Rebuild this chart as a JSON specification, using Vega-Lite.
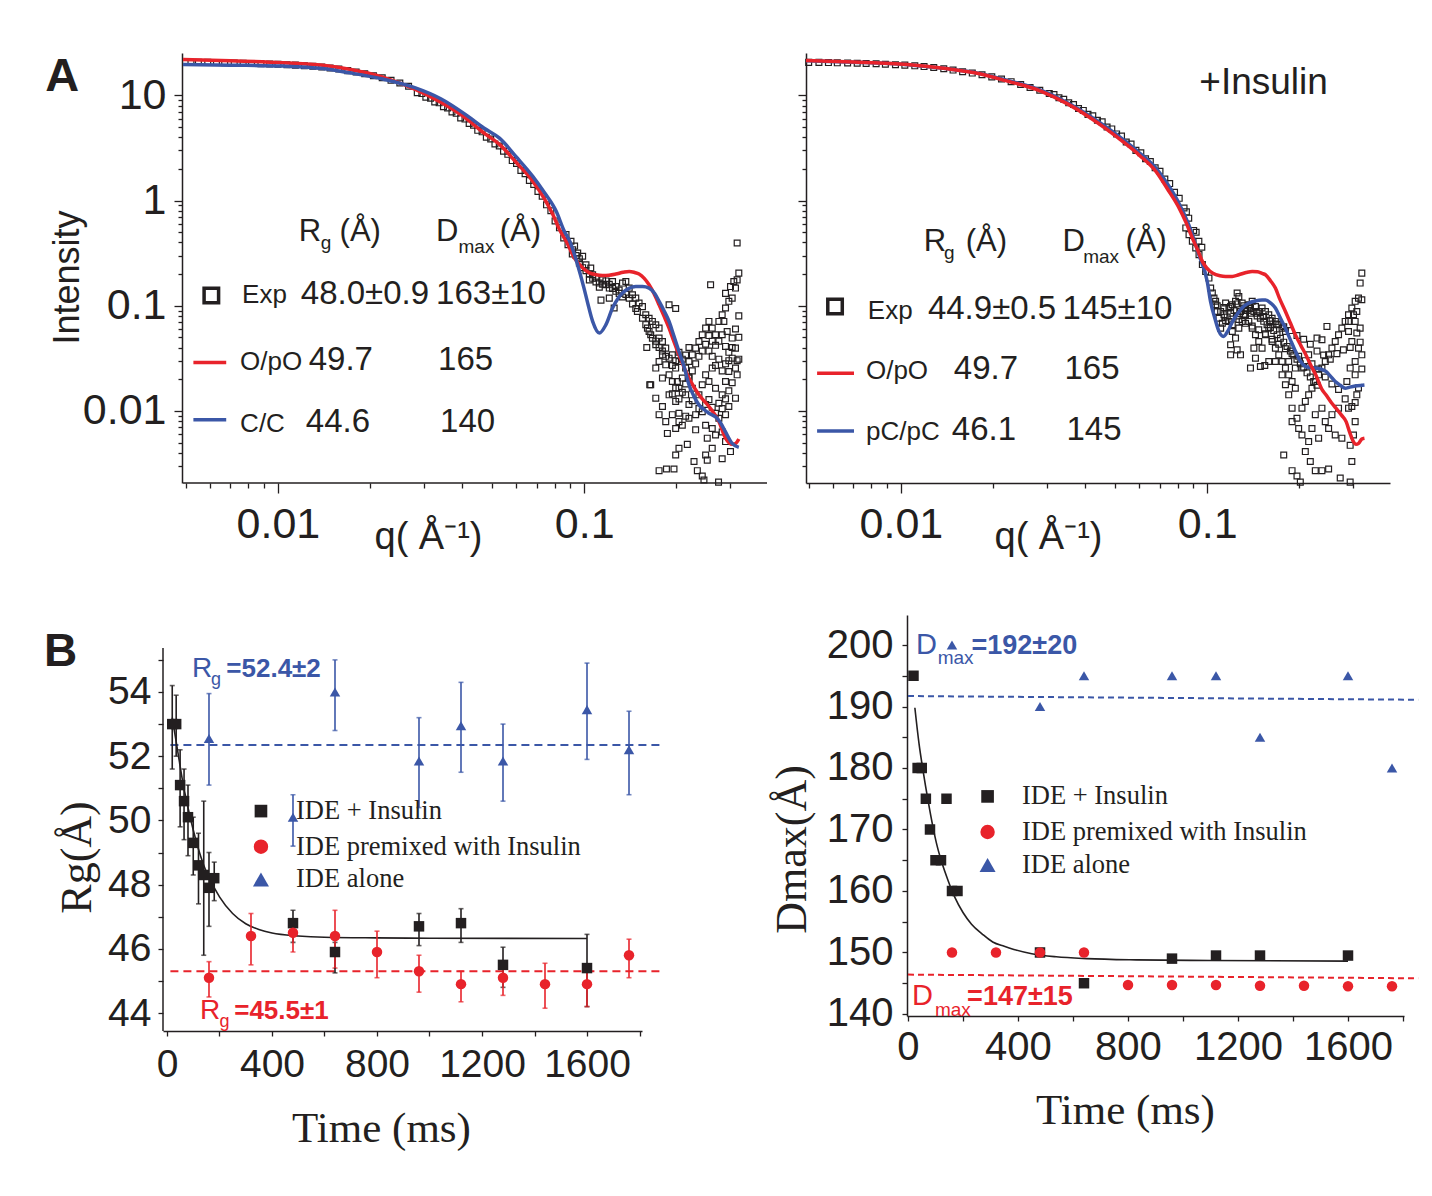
{
"$schema": "https://vega.github.io/schema/vega-lite/v6.json",
"background": "white",
"padding": {"left": 44, "top": 52, "right": 5, "bottom": 5},
"columns": 1,
"spacing": 59,
"config": {
  "view": {"stroke": null},
  "axis": {"grid": false, "domainColor": "#231f20", "tickColor": "#231f20", "labelColor": "#231f20", "titleColor": "#231f20", "domainWidth": 1.5, "tickWidth": 1.3, "labelFont": "Liberation Sans", "labelOverlap": false, "labelFlush": false, "labelBound": false, "titleFontWeight": "normal"}
},
"datasets": {
  "expL": [
    {"q":0.0052,"I":20.7},{"q":0.0055,"I":20.7},{"q":0.0059,"I":20.6},{"q":0.0063,"I":20.5},{"q":0.0067,"I":20.4},{"q":0.0072,"I":20.3},{"q":0.0077,"I":20.2},{"q":0.0082,"I":20.1},{"q":0.0088,"I":20.0},{"q":0.0094,"I":19.9},{"q":0.0100,"I":19.8},{"q":0.0107,"I":19.6},{"q":0.0114,"I":19.4},{"q":0.0122,"I":19.1},{"q":0.0130,"I":18.9},{"q":0.0139,"I":18.6},{"q":0.0148,"I":18.2},{"q":0.0158,"I":17.8},{"q":0.0169,"I":17.2},{"q":0.0180,"I":16.7},{"q":0.0192,"I":16.1},{"q":0.0205,"I":15.4},{"q":0.0219,"I":14.7},{"q":0.0234,"I":13.9},{"q":0.0250,"I":13.1},{"q":0.0267,"I":12.2},
    {"q":0.0285,"I":10.6},{"q":0.0304,"I":9.6},{"q":0.0325,"I":8.65},{"q":0.0347,"I":7.8},{"q":0.0370,"I":6.95},{"q":0.0395,"I":6.1},{"q":0.0421,"I":5.4},{"q":0.0449,"I":4.65},{"q":0.0479,"I":4.0},{"q":0.0511,"I":3.45},{"q":0.0545,"I":2.95},{"q":0.0582,"I":2.4},{"q":0.0621,"I":1.93},{"q":0.0662,"I":1.55},{"q":0.0706,"I":1.22},{"q":0.0753,"I":0.91},{"q":0.0803,"I":0.64},{"q":0.0857,"I":0.44},{"q":0.0914,"I":0.31},
    {"q":0.0295,"I":10.4},{"q":0.0315,"I":9.4},{"q":0.0336,"I":8.5},{"q":0.0358,"I":7.6},{"q":0.0382,"I":6.75},{"q":0.0408,"I":5.95},{"q":0.0435,"I":5.2},{"q":0.0464,"I":4.5},{"q":0.0495,"I":3.85},{"q":0.0528,"I":3.3},{"q":0.0563,"I":2.75},{"q":0.0601,"I":2.25},{"q":0.0641,"I":1.8},{"q":0.0684,"I":1.42},{"q":0.0729,"I":1.1},{"q":0.0778,"I":0.8},{"q":0.0830,"I":0.55},{"q":0.0885,"I":0.38},
    {"q":0.0872,"I":0.474},{"q":0.0905,"I":0.41},{"q":0.093,"I":0.369},{"q":0.0952,"I":0.317},{"q":0.0988,"I":0.295},{"q":0.0964,"I":0.255},{"q":0.1013,"I":0.245},{"q":0.105,"I":0.228},{"q":0.1065,"I":0.197},{"q":0.1092,"I":0.183},{"q":0.1039,"I":0.176},{"q":0.112,"I":0.164},{"q":0.1148,"I":0.176},{"q":0.1177,"I":0.158},{"q":0.1207,"I":0.147},{"q":0.1237,"I":0.170},{"q":0.1268,"I":0.152},{"q":0.130,"I":0.141},{"q":0.1333,"I":0.164},{"q":0.1367,"I":0.170},{"q":0.1134,"I":0.113},{"q":0.1207,"I":0.118},{"q":0.1252,"I":0.095},{"q":0.1402,"I":0.147},{"q":0.1437,"I":0.127},{"q":0.1473,"I":0.118},{"q":0.151,"I":0.106},{"q":0.1549,"I":0.098},{"q":0.1491,"I":0.088},{"q":0.1588,"I":0.082},{"q":0.1628,"I":0.076},{"q":0.1669,"I":0.0709},{"q":0.1712,"I":0.0659},{"q":0.1755,"I":0.0612},{"q":0.1608,"I":0.0612},{"q":0.1648,"I":0.0529},{"q":0.1755,"I":0.0492},{"q":0.18,"I":0.0457},{"q":0.1712,"I":0.0425},{"q":0.1892,"I":0.102},{"q":0.1988,"I":0.094},{"q":0.1845,"I":0.0395},{"q":0.18,"I":0.0341},{"q":0.1755,"I":0.0295},{"q":0.1845,"I":0.0274},{"q":0.1892,"I":0.0317},{"q":0.1939,"I":0.0341},{"q":0.1988,"I":0.0255},{"q":0.2038,"I":0.0295},{"q":0.1892,"I":0.022},{"q":0.1939,"I":0.019},{"q":0.1712,"I":0.0255},{"q":0.1648,"I":0.0177},{"q":0.18,"I":0.0205},{"q":0.2013,"I":0.019},{"q":0.209,"I":0.0205},{"q":0.2143,"I":0.0255},{"q":0.2197,"I":0.0295},{"q":0.2253,"I":0.0341},{"q":0.231,"I":0.0395},{"q":0.2368,"I":0.0457},{"q":0.2428,"I":0.0529},{"q":0.249,"I":0.0612},{"q":0.2553,"I":0.0709},{"q":0.2617,"I":0.0612},{"q":0.2683,"I":0.0529},{"q":0.2751,"I":0.0709},{"q":0.282,"I":0.082},{"q":0.2892,"I":0.095},{"q":0.2965,"I":0.110},{"q":0.304,"I":0.118},{"q":0.3117,"I":0.147},{"q":0.3156,"I":0.176},{"q":0.3196,"I":0.204},{"q":0.3078,"I":0.170},{"q":0.3002,"I":0.152},{"q":0.2892,"I":0.131},{"q":0.2856,"I":0.0709},{"q":0.2928,"I":0.0569},{"q":0.304,"I":0.0492},{"q":0.3117,"I":0.0395},{"q":0.304,"I":0.0317},{"q":0.2965,"I":0.0237},{"q":0.3156,"I":0.022},{"q":0.2892,"I":0.019},{"q":0.282,"I":0.0142},{"q":0.2683,"I":0.0164},{"q":0.2553,"I":0.019},{"q":0.2617,"I":0.0255},{"q":0.249,"I":0.022},{"q":0.2428,"I":0.0177},{"q":0.2368,"I":0.0142},{"q":0.2253,"I":0.0164},{"q":0.2143,"I":0.0142},{"q":0.2197,"I":0.0205},{"q":0.2038,"I":0.0164},{"q":0.1988,"I":0.0123},{"q":0.1892,"I":0.0142},{"q":0.18,"I":0.011},{"q":0.1845,"I":0.0079},{"q":0.1755,"I":0.0092},{"q":0.1939,"I":0.0092},{"q":0.2038,"I":0.0095},{"q":0.2143,"I":0.0089},{"q":0.2038,"I":0.0079},{"q":0.1988,"I":0.0068},{"q":0.209,"I":0.0073},{"q":0.2197,"I":0.0085},{"q":0.231,"I":0.0092},{"q":0.249,"I":0.0073},{"q":0.231,"I":0.0066},{"q":0.2521,"I":0.0055},{"q":0.2683,"I":0.0059},{"q":0.2617,"I":0.0068},{"q":0.2751,"I":0.0085},{"q":0.2892,"I":0.0092},{"q":0.3117,"I":0.0132},{"q":0.2965,"I":0.011},{"q":0.282,"I":0.0063},{"q":0.2892,"I":0.0051},{"q":0.3002,"I":0.0041},{"q":0.282,"I":0.0035},{"q":0.2617,"I":0.0044},{"q":0.249,"I":0.0038},{"q":0.2521,"I":0.0034},{"q":0.2282,"I":0.0033},{"q":0.217,"I":0.0048},{"q":0.2038,"I":0.0044},{"q":0.1988,"I":0.0038},{"q":0.1868,"I":0.0061},{"q":0.1963,"I":0.0028},{"q":0.1755,"I":0.0027},{"q":0.1855,"I":0.0028},{"q":0.234,"I":0.0027},{"q":0.2428,"I":0.0024},{"q":0.2459,"I":0.0022},{"q":0.2744,"I":0.0021},{"q":0.2585,"I":0.158},{"q":0.3156,"I":0.395},{"q":0.16,"I":0.040},{"q":0.1636,"I":0.0177},{"q":0.1712,"I":0.0132},
    {"q":0.1549,"I":0.076},{"q":0.1588,"I":0.066},{"q":0.1628,"I":0.057},{"q":0.1669,"I":0.049},{"q":0.1712,"I":0.046},{"q":0.1755,"I":0.040},{"q":0.18,"I":0.037},{"q":0.1845,"I":0.033},{"q":0.1939,"I":0.027},{"q":0.1988,"I":0.030},{"q":0.2038,"I":0.036},{"q":0.209,"I":0.031},{"q":0.2143,"I":0.034},{"q":0.2197,"I":0.040},{"q":0.1473,"I":0.094},{"q":0.1437,"I":0.104},{"q":0.1402,"I":0.118},{"q":0.1367,"I":0.128},{"q":0.1333,"I":0.121},{"q":0.13,"I":0.131},{"q":0.1268,"I":0.137},{"q":0.1237,"I":0.146},{"q":0.1207,"I":0.160},{"q":0.1177,"I":0.172},{"q":0.1148,"I":0.160},{"q":0.112,"I":0.150},{"q":0.1092,"I":0.168},{"q":0.1065,"I":0.182},{"q":0.1039,"I":0.200},{"q":0.1013,"I":0.215},{"q":0.0988,"I":0.230},{"q":0.0964,"I":0.280},{"q":0.094,"I":0.300},{"q":0.0917,"I":0.340},
    {"q":0.2553,"I":0.052},{"q":0.2617,"I":0.046},{"q":0.2683,"I":0.042},{"q":0.2751,"I":0.046},{"q":0.282,"I":0.053},{"q":0.2892,"I":0.041},{"q":0.2965,"I":0.036},{"q":0.304,"I":0.040},{"q":0.3117,"I":0.060},{"q":0.3196,"I":0.080},{"q":0.3196,"I":0.050},{"q":0.3156,"I":0.030},{"q":0.2965,"I":0.030},{"q":0.2892,"I":0.028},{"q":0.282,"I":0.024},{"q":0.2751,"I":0.031},{"q":0.2683,"I":0.027},{"q":0.2617,"I":0.033},{"q":0.2553,"I":0.037},{"q":0.249,"I":0.043},{"q":0.2428,"I":0.037},{"q":0.2368,"I":0.033},{"q":0.231,"I":0.028},{"q":0.2253,"I":0.024},{"q":0.2197,"I":0.021},{"q":0.2143,"I":0.018},{"q":0.209,"I":0.015},{"q":0.2038,"I":0.013},{"q":0.1988,"I":0.0165},{"q":0.1939,"I":0.0145},
    {"q":0.2197,"I":0.0115},{"q":0.2253,"I":0.0125},{"q":0.2368,"I":0.0105},{"q":0.2428,"I":0.0098},{"q":0.249,"I":0.0115},{"q":0.2553,"I":0.0128},{"q":0.2617,"I":0.0108},{"q":0.2683,"I":0.0095},{"q":0.2751,"I":0.0118},{"q":0.282,"I":0.0105},{"q":0.2892,"I":0.013},{"q":0.2965,"I":0.0155},{"q":0.304,"I":0.0185},{"q":0.3117,"I":0.0255},{"q":0.3196,"I":0.031}
  ],
  "expR": [
    {"q":0.0050,"I":20.6},{"q":0.0054,"I":20.6},{"q":0.0058,"I":20.5},{"q":0.0062,"I":20.4},{"q":0.0067,"I":20.3},{"q":0.0072,"I":20.2},{"q":0.0077,"I":20.1},{"q":0.0083,"I":20.0},{"q":0.0089,"I":19.8},{"q":0.0096,"I":19.6},{"q":0.0103,"I":19.4},{"q":0.0111,"I":19.1},{"q":0.0119,"I":18.8},{"q":0.0128,"I":18.4},{"q":0.0138,"I":17.9},{"q":0.0148,"I":17.4},{"q":0.0159,"I":16.8},{"q":0.0171,"I":16.3},{"q":0.0184,"I":15.7},{"q":0.0198,"I":15.0},{"q":0.0213,"I":14.3},{"q":0.0229,"I":13.5},{"q":0.0246,"I":12.7},{"q":0.0264,"I":11.9},{"q":0.0284,"I":11.2},{"q":0.0305,"I":10.4},{"q":0.0328,"I":9.5},{"q":0.0353,"I":8.5},{"q":0.0380,"I":7.5},{"q":0.0408,"I":6.6},{"q":0.0438,"I":5.8},{"q":0.0471,"I":5.0},{"q":0.0506,"I":4.3},{"q":0.0544,"I":3.6},{"q":0.0585,"I":3.0},{"q":0.0629,"I":2.5},{"q":0.0676,"I":2.05},{"q":0.0727,"I":1.6},{"q":0.0782,"I":1.2},{"q":0.0840,"I":0.85},{"q":0.0870,"I":0.68},{"q":0.0903,"I":0.52},{"q":0.0939,"I":0.41},
    {"q":0.0316,"I":10.2},{"q":0.0340,"I":9.2},{"q":0.0366,"I":8.2},{"q":0.0394,"I":7.2},{"q":0.0423,"I":6.4},{"q":0.0454,"I":5.6},{"q":0.0488,"I":4.8},{"q":0.0525,"I":4.1},{"q":0.0564,"I":3.45},{"q":0.0607,"I":2.85},{"q":0.0652,"I":2.35},{"q":0.0701,"I":1.9},{"q":0.0754,"I":1.45},{"q":0.0810,"I":1.05},{"q":0.0855,"I":0.78},{"q":0.0920,"I":0.50},{"q":0.0960,"I":0.36},
    {"q":0.0851,"I":0.549},{"q":0.0872,"I":0.474},{"q":0.0894,"I":0.410},{"q":0.0917,"I":0.354},{"q":0.094,"I":0.306},{"q":0.0964,"I":0.246},{"q":0.0988,"I":0.212},{"q":0.1013,"I":0.183},{"q":0.1026,"I":0.147},{"q":0.1039,"I":0.132},{"q":0.1052,"I":0.118},{"q":0.1065,"I":0.102},{"q":0.1078,"I":0.088},{"q":0.1092,"I":0.076},{"q":0.112,"I":0.068},{"q":0.1106,"I":0.0612},{"q":0.1065,"I":0.110},{"q":0.1148,"I":0.106},{"q":0.1177,"I":0.095},{"q":0.1207,"I":0.102},{"q":0.1237,"I":0.110},{"q":0.1268,"I":0.122},{"q":0.13,"I":0.106},{"q":0.1333,"I":0.095},{"q":0.1367,"I":0.102},{"q":0.1402,"I":0.110},{"q":0.1437,"I":0.098},{"q":0.1473,"I":0.088},{"q":0.151,"I":0.095},{"q":0.1549,"I":0.088},{"q":0.1588,"I":0.082},{"q":0.1628,"I":0.076},{"q":0.1669,"I":0.0709},{"q":0.1712,"I":0.0659},{"q":0.1755,"I":0.0612},{"q":0.18,"I":0.0569},{"q":0.1177,"I":0.0709},{"q":0.1207,"I":0.0569},{"q":0.1237,"I":0.0492},{"q":0.1268,"I":0.0612},{"q":0.13,"I":0.0709},{"q":0.1333,"I":0.082},{"q":0.1367,"I":0.0709},{"q":0.1402,"I":0.0612},{"q":0.1437,"I":0.0529},{"q":0.1473,"I":0.0457},{"q":0.151,"I":0.0395},{"q":0.1549,"I":0.0529},{"q":0.1588,"I":0.0612},{"q":0.1628,"I":0.0457},{"q":0.1669,"I":0.0395},{"q":0.1192,"I":0.0425},{"q":0.1192,"I":0.0341},{"q":0.1252,"I":0.038},{"q":0.1284,"I":0.0341},{"q":0.142,"I":0.0395},{"q":0.1437,"I":0.0317},{"q":0.1384,"I":0.0255},{"q":0.1491,"I":0.0264},{"q":0.1541,"I":0.027},{"q":0.1252,"I":0.132},{"q":0.1712,"I":0.0341},{"q":0.1755,"I":0.0295},{"q":0.18,"I":0.0255},{"q":0.1845,"I":0.022},{"q":0.1892,"I":0.019},{"q":0.1939,"I":0.0164},{"q":0.1755,"I":0.022},{"q":0.18,"I":0.0177},{"q":0.1845,"I":0.0142},{"q":0.1892,"I":0.0106},{"q":0.1963,"I":0.0085},{"q":0.1988,"I":0.0068},{"q":0.2038,"I":0.0059},{"q":0.1892,"I":0.0079},{"q":0.2038,"I":0.0106},{"q":0.209,"I":0.0123},{"q":0.2143,"I":0.0142},{"q":0.2197,"I":0.0164},{"q":0.2253,"I":0.019},{"q":0.231,"I":0.022},{"q":0.2368,"I":0.0255},{"q":0.2428,"I":0.0295},{"q":0.249,"I":0.0341},{"q":0.2553,"I":0.0395},{"q":0.2617,"I":0.0457},{"q":0.2683,"I":0.0529},{"q":0.2751,"I":0.0612},{"q":0.282,"I":0.0709},{"q":0.2892,"I":0.082},{"q":0.2965,"I":0.095},{"q":0.304,"I":0.110},{"q":0.3117,"I":0.118},{"q":0.3196,"I":0.114},{"q":0.3156,"I":0.164},{"q":0.3196,"I":0.204},{"q":0.3078,"I":0.088},{"q":0.3002,"I":0.082},{"q":0.2892,"I":0.0709},{"q":0.304,"I":0.0709},{"q":0.3156,"I":0.0612},{"q":0.2892,"I":0.0569},{"q":0.2965,"I":0.0457},{"q":0.3117,"I":0.0395},{"q":0.3196,"I":0.0341},{"q":0.304,"I":0.0295},{"q":0.2928,"I":0.0255},{"q":0.2856,"I":0.019},{"q":0.304,"I":0.022},{"q":0.3078,"I":0.0142},{"q":0.2892,"I":0.0106},{"q":0.304,"I":0.0079},{"q":0.3002,"I":0.0059},{"q":0.2928,"I":0.0047},{"q":0.2751,"I":0.0055},{"q":0.2617,"I":0.0059},{"q":0.249,"I":0.0068},{"q":0.2428,"I":0.0079},{"q":0.2553,"I":0.0092},{"q":0.2683,"I":0.0106},{"q":0.2368,"I":0.0106},{"q":0.2253,"I":0.0092},{"q":0.2197,"I":0.0068},{"q":0.231,"I":0.0055},{"q":0.2143,"I":0.0051},{"q":0.209,"I":0.0041},{"q":0.217,"I":0.0033},{"q":0.2253,"I":0.0027},{"q":0.2368,"I":0.0027},{"q":0.249,"I":0.0028},{"q":0.2717,"I":0.0023},{"q":0.2928,"I":0.0021},{"q":0.2965,"I":0.0033},{"q":0.1777,"I":0.0038},{"q":0.1892,"I":0.0027},{"q":0.1963,"I":0.0024},{"q":0.2013,"I":0.0021},{"q":0.2459,"I":0.0635},{"q":0.2282,"I":0.0492},{"q":0.2368,"I":0.0474},{"q":0.2143,"I":0.0341},{"q":0.2038,"I":0.0255},{"q":0.1939,"I":0.0255},{"q":0.1845,"I":0.0295},{"q":0.1669,"I":0.0295},{"q":0.1588,"I":0.0295},
    {"q":0.1106,"I":0.088},{"q":0.1134,"I":0.082},{"q":0.1162,"I":0.078},{"q":0.1192,"I":0.085},{"q":0.1222,"I":0.090},{"q":0.1252,"I":0.080},{"q":0.1284,"I":0.088},{"q":0.1317,"I":0.083},{"q":0.135,"I":0.090},{"q":0.1384,"I":0.085},{"q":0.142,"I":0.088},{"q":0.1455,"I":0.080},{"q":0.1491,"I":0.076},{"q":0.1529,"I":0.071},{"q":0.1568,"I":0.066},{"q":0.1608,"I":0.062},{"q":0.1648,"I":0.058},{"q":0.169,"I":0.053},{"q":0.1733,"I":0.049},{"q":0.1777,"I":0.045},{"q":0.1822,"I":0.041},{"q":0.1868,"I":0.037},{"q":0.1916,"I":0.034},{"q":0.1963,"I":0.031},{"q":0.2013,"I":0.028},{"q":0.2064,"I":0.026},{"q":0.2117,"I":0.023},{"q":0.217,"I":0.021},{"q":0.2225,"I":0.019},{"q":0.2282,"I":0.0175},{"q":0.1148,"I":0.072},{"q":0.1207,"I":0.066},{"q":0.1268,"I":0.074},{"q":0.1333,"I":0.068},{"q":0.1402,"I":0.064},{"q":0.1473,"I":0.059},{"q":0.1549,"I":0.054},{"q":0.1628,"I":0.048},{"q":0.1712,"I":0.043},{"q":0.18,"I":0.039},{"q":0.1892,"I":0.035},{"q":0.1988,"I":0.033},{"q":0.209,"I":0.030},{"q":0.2197,"I":0.028},{"q":0.231,"I":0.025},{"q":0.2428,"I":0.021},{"q":0.2553,"I":0.018},{"q":0.2683,"I":0.016},{"q":0.282,"I":0.013},{"q":0.2965,"I":0.011},{"q":0.304,"I":0.012},{"q":0.3117,"I":0.0165},{"q":0.3196,"I":0.025},{"q":0.3156,"I":0.045},{"q":0.3078,"I":0.055},{"q":0.2928,"I":0.040},{"q":0.2783,"I":0.038},{"q":0.265,"I":0.035},{"q":0.2521,"I":0.031},{"q":0.2398,"I":0.034},{"q":0.2282,"I":0.037},{"q":0.217,"I":0.043},{"q":0.2064,"I":0.048},{"q":0.1963,"I":0.052},{"q":0.1868,"I":0.058},{"q":0.1777,"I":0.063},{"q":0.169,"I":0.067},{"q":0.1608,"I":0.072},{"q":0.1529,"I":0.079},{"q":0.1455,"I":0.085},{"q":0.1384,"I":0.094},{"q":0.1317,"I":0.100},{"q":0.1252,"I":0.104},{"q":0.1192,"I":0.098},{"q":0.1134,"I":0.096},{"q":0.1078,"I":0.100}
  ],
  "redL": [
    {"q":0.0049,"I":22.0},{"q":0.0070,"I":21.4},{"q":0.0104,"I":20.4},{"q":0.0140,"I":19.3},{"q":0.0171,"I":17.7},{"q":0.0220,"I":14.9},{"q":0.0281,"I":11.4},{"q":0.0340,"I":8.6},{"q":0.0409,"I":6.12},{"q":0.0470,"I":4.4},{"q":0.0530,"I":3.4},{"q":0.0600,"I":2.3},{"q":0.0679,"I":1.53},{"q":0.0740,"I":1.05},{"q":0.0789,"I":0.74},{"q":0.0830,"I":0.53},{"q":0.0873,"I":0.41},{"q":0.0929,"I":0.284},{"q":0.0989,"I":0.228},{"q":0.1040,"I":0.205},{"q":0.1092,"I":0.197},{"q":0.1148,"I":0.194},{"q":0.1205,"I":0.195},{"q":0.1268,"I":0.200},{"q":0.1340,"I":0.208},{"q":0.1402,"I":0.212},{"q":0.1460,"I":0.207},{"q":0.1510,"I":0.200},{"q":0.1570,"I":0.182},{"q":0.1628,"I":0.158},{"q":0.1690,"I":0.130},{"q":0.1755,"I":0.102},{"q":0.1820,"I":0.080},{"q":0.1892,"I":0.0612},{"q":0.1960,"I":0.046},{"q":0.2038,"I":0.0341},{"q":0.2197,"I":0.0205},{"q":0.2368,"I":0.0142},{"q":0.2553,"I":0.0110},{"q":0.2751,"I":0.0079},{"q":0.2892,"I":0.0055},{"q":0.3040,"I":0.0048},{"q":0.3120,"I":0.0049},{"q":0.3196,"I":0.0054}
  ],
  "blueL": [
    {"q":0.0049,"I":19.7},{"q":0.0070,"I":19.4},{"q":0.0104,"I":19.0},{"q":0.0140,"I":18.0},{"q":0.0171,"I":16.4},{"q":0.0220,"I":14.3},{"q":0.0281,"I":11.8},{"q":0.0340,"I":9.3},{"q":0.0409,"I":6.6},{"q":0.0470,"I":4.9},{"q":0.0530,"I":3.9},{"q":0.0600,"I":2.6},{"q":0.0679,"I":1.70},{"q":0.0740,"I":1.20},{"q":0.0810,"I":0.79},{"q":0.0861,"I":0.51},{"q":0.0897,"I":0.409},{"q":0.0951,"I":0.245},{"q":0.0998,"I":0.147},{"q":0.1023,"I":0.110},{"q":0.1065,"I":0.071},{"q":0.1120,"I":0.055},{"q":0.1177,"I":0.066},{"q":0.1237,"I":0.095},{"q":0.1290,"I":0.118},{"q":0.1333,"I":0.132},{"q":0.1400,"I":0.146},{"q":0.1473,"I":0.152},{"q":0.1550,"I":0.152},{"q":0.1628,"I":0.147},{"q":0.1700,"I":0.130},{"q":0.1755,"I":0.110},{"q":0.1820,"I":0.090},{"q":0.1892,"I":0.0709},{"q":0.1960,"I":0.052},{"q":0.2038,"I":0.0367},{"q":0.2120,"I":0.026},{"q":0.2197,"I":0.0177},{"q":0.2280,"I":0.0138},{"q":0.2368,"I":0.0114},{"q":0.2460,"I":0.0103},{"q":0.2553,"I":0.0095},{"q":0.2717,"I":0.0085},{"q":0.2800,"I":0.0075},{"q":0.2892,"I":0.0063},{"q":0.3040,"I":0.0049},{"q":0.3196,"I":0.0045}
  ],
  "redR": [
    {"q":0.0049,"I":21.5},{"q":0.0070,"I":20.8},{"q":0.0105,"I":19.7},{"q":0.0140,"I":18.0},{"q":0.0174,"I":16.4},{"q":0.0220,"I":13.8},{"q":0.0286,"I":11.0},{"q":0.0350,"I":8.3},{"q":0.0416,"I":6.1},{"q":0.0470,"I":4.75},{"q":0.0528,"I":3.67},{"q":0.0600,"I":2.7},{"q":0.0679,"I":1.90},{"q":0.0740,"I":1.30},{"q":0.0809,"I":0.851},{"q":0.0850,"I":0.63},{"q":0.0894,"I":0.44},{"q":0.0930,"I":0.34},{"q":0.0964,"I":0.264},{"q":0.1000,"I":0.225},{"q":0.1043,"I":0.204},{"q":0.1100,"I":0.193},{"q":0.1148,"I":0.19},{"q":0.1207,"I":0.19},{"q":0.1268,"I":0.197},{"q":0.1340,"I":0.207},{"q":0.1402,"I":0.212},{"q":0.1460,"I":0.210},{"q":0.1510,"I":0.203},{"q":0.1549,"I":0.197},{"q":0.1610,"I":0.172},{"q":0.1669,"I":0.147},{"q":0.1720,"I":0.118},{"q":0.1800,"I":0.088},{"q":0.1870,"I":0.068},{"q":0.1939,"I":0.053},{"q":0.2020,"I":0.042},{"q":0.2100,"I":0.034},{"q":0.2180,"I":0.027},{"q":0.2260,"I":0.022},{"q":0.2368,"I":0.0160},{"q":0.2440,"I":0.0142},{"q":0.2540,"I":0.012},{"q":0.2630,"I":0.0106},{"q":0.2751,"I":0.0090},{"q":0.2840,"I":0.0079},{"q":0.2920,"I":0.0062},{"q":0.2990,"I":0.0052},{"q":0.3060,"I":0.0048},{"q":0.3120,"I":0.0049},{"q":0.3196,"I":0.0054},{"q":0.3260,"I":0.0055}
  ],
  "blueR": [
    {"q":0.0049,"I":21.3},{"q":0.0070,"I":20.7},{"q":0.0105,"I":19.6},{"q":0.0140,"I":18.0},{"q":0.0174,"I":16.5},{"q":0.0220,"I":14.0},{"q":0.0286,"I":11.2},{"q":0.0350,"I":8.5},{"q":0.0416,"I":6.3},{"q":0.0470,"I":4.95},{"q":0.0528,"I":3.85},{"q":0.0600,"I":2.85},{"q":0.0679,"I":2.04},{"q":0.0740,"I":1.45},{"q":0.0800,"I":1.0},{"q":0.0870,"I":0.59},{"q":0.0939,"I":0.306},{"q":0.1000,"I":0.170},{"q":0.1025,"I":0.110},{"q":0.1060,"I":0.075},{"q":0.1092,"I":0.057},{"q":0.1130,"I":0.051},{"q":0.1170,"I":0.058},{"q":0.1210,"I":0.071},{"q":0.1260,"I":0.085},{"q":0.1300,"I":0.095},{"q":0.1367,"I":0.106},{"q":0.1437,"I":0.111},{"q":0.1510,"I":0.113},{"q":0.1550,"I":0.113},{"q":0.1610,"I":0.106},{"q":0.1669,"I":0.095},{"q":0.1730,"I":0.077},{"q":0.1800,"I":0.061},{"q":0.1870,"I":0.047},{"q":0.1939,"I":0.037},{"q":0.2010,"I":0.030},{"q":0.2090,"I":0.0265},{"q":0.2170,"I":0.0258},{"q":0.2253,"I":0.0256},{"q":0.2340,"I":0.0250},{"q":0.2440,"I":0.0237},{"q":0.2520,"I":0.0215},{"q":0.2617,"I":0.019},{"q":0.2720,"I":0.0175},{"q":0.2820,"I":0.0164},{"q":0.2920,"I":0.0168},{"q":0.3040,"I":0.0172},{"q":0.3196,"I":0.0175},{"q":0.3260,"I":0.0176}
  ],
  "axisL": [{"q":0.0049,"q2":0.395,"I":0.00206}],
  "tabL": [
    {"text":"A","part":"panel","q":0.00174,"I":11.01},
    {"text":"R","part":"head","q":0.0117,"I":0.41},
    {"text":"g","part":"sub","q":0.0138,"I":0.347},
    {"text":"(Å)","part":"head","q":0.0159,"I":0.41},
    {"text":"D","part":"head","q":0.03283,"I":0.41},
    {"text":"max","part":"sub","q":0.03886,"I":0.317},
    {"text":"(Å)","part":"head","q":0.05297,"I":0.41},
    {"text":"","part":"marker","q":0.006062,"I":0.1253},
    {"text":"Exp","part":"name","q":0.007639,"I":0.1052},
    {"text":"48.0±0.9","part":"value","q":0.01188,"I":0.1029},
    {"text":"163±10","part":"value","q":0.03283,"I":0.1029},
    {"text":"O/pO","part":"name","q":0.007526,"I":0.02473},
    {"text":"49.7","part":"value","q":0.0126,"I":0.02473},
    {"text":"165","part":"value","q":0.03332,"I":0.02473},
    {"text":"C/C","part":"name","q":0.007526,"I":0.006353},
    {"text":"44.6","part":"value","q":0.01233,"I":0.006353},
    {"text":"140","part":"value","q":0.03382,"I":0.006353}
  ],
  "keyL": [
    {"model":"O/pO","q":0.005297,"q2":0.006779,"I":0.02884},
    {"model":"C/C","q":0.005297,"q2":0.006779,"I":0.008208}
  ],
  "tabR": [
    {"text":"R","part":"head","q":0.01188,"I":0.3291},
    {"text":"g","part":"sub","q":0.01383,"I":0.2786},
    {"text":"(Å)","part":"head","q":0.01628,"I":0.3291},
    {"text":"D","part":"head","q":0.0337,"I":0.3291},
    {"text":"max","part":"sub","q":0.03935,"I":0.2547},
    {"text":"(Å)","part":"head","q":0.05406,"I":0.3291},
    {"text":"","part":"marker","q":0.006095,"I":0.09847},
    {"text":"Exp","part":"name","q":0.0078,"I":0.07536},
    {"text":"44.9±0.5","part":"value","q":0.01225,"I":0.07536},
    {"text":"145±10","part":"value","q":0.0337,"I":0.07536},
    {"text":"O/pO","part":"name","q":0.00769,"I":0.01987},
    {"text":"49.7","part":"value","q":0.01488,"I":0.01987},
    {"text":"165","part":"value","q":0.0342,"I":0.01987},
    {"text":"pC/pC","part":"name","q":0.00769,"I":0.005333},
    {"text":"46.1","part":"value","q":0.01466,"I":0.005333},
    {"text":"145","part":"value","q":0.03472,"I":0.005333},
    {"text":"+Insulin","part":"label","q":0.09419,"I":10.29}
  ],
  "keyR": [
    {"model":"O/pO","q":0.005326,"q2":0.007029,"I":0.0228},
    {"model":"pC/pC","q":0.005326,"q2":0.007029,"I":0.006422}
  ],
  "rg": [
    {"series":"IDE + Insulin","t":20,"v":53.0,"lo":51.6,"hi":54.2},
    {"series":"IDE + Insulin","t":35,"v":53.0,"lo":52.0,"hi":53.9},
    {"series":"IDE + Insulin","t":50,"v":51.1,"lo":49.8,"hi":52.2},
    {"series":"IDE + Insulin","t":65,"v":50.6,"lo":49.4,"hi":51.6},
    {"series":"IDE + Insulin","t":80,"v":50.1,"lo":48.9,"hi":51.1},
    {"series":"IDE + Insulin","t":100,"v":49.3,"lo":48.3,"hi":50.1},
    {"series":"IDE + Insulin","t":120,"v":48.6,"lo":47.4,"hi":49.6},
    {"series":"IDE + Insulin","t":140,"v":48.3,"lo":45.8,"hi":50.6},
    {"series":"IDE + Insulin","t":160,"v":47.9,"lo":46.7,"hi":49.0},
    {"series":"IDE + Insulin","t":180,"v":48.2,"lo":47.5,"hi":48.7},
    {"series":"IDE + Insulin","t":480,"v":46.8,"lo":46.2,"hi":47.2},
    {"series":"IDE + Insulin","t":640,"v":45.9,"lo":45.25,"hi":46.2},
    {"series":"IDE + Insulin","t":960,"v":46.7,"lo":46.1,"hi":47.1},
    {"series":"IDE + Insulin","t":1120,"v":46.8,"lo":46.2,"hi":47.25},
    {"series":"IDE + Insulin","t":1280,"v":45.5,"lo":44.8,"hi":46.05},
    {"series":"IDE + Insulin","t":1600,"v":45.4,"lo":44.2,"hi":46.45},
    {"series":"IDE premixed with Insulin","t":160,"v":45.1,"lo":44.5,"hi":45.6},
    {"series":"IDE premixed with Insulin","t":320,"v":46.4,"lo":45.5,"hi":47.1},
    {"series":"IDE premixed with Insulin","t":480,"v":46.5,"lo":45.9,"hi":46.9},
    {"series":"IDE premixed with Insulin","t":640,"v":46.4,"lo":45.4,"hi":47.2},
    {"series":"IDE premixed with Insulin","t":800,"v":45.9,"lo":45.1,"hi":46.55},
    {"series":"IDE premixed with Insulin","t":960,"v":45.3,"lo":44.65,"hi":45.8},
    {"series":"IDE premixed with Insulin","t":1120,"v":44.9,"lo":44.35,"hi":45.3},
    {"series":"IDE premixed with Insulin","t":1280,"v":45.1,"lo":44.55,"hi":45.6},
    {"series":"IDE premixed with Insulin","t":1440,"v":44.9,"lo":44.15,"hi":45.55},
    {"series":"IDE premixed with Insulin","t":1600,"v":44.9,"lo":44.2,"hi":45.4},
    {"series":"IDE premixed with Insulin","t":1760,"v":45.8,"lo":45.1,"hi":46.3},
    {"series":"IDE alone","t":160,"v":52.55,"lo":51.1,"hi":53.95},
    {"series":"IDE alone","t":480,"v":50.1,"lo":49.2,"hi":50.8},
    {"series":"IDE alone","t":640,"v":54.0,"lo":52.8,"hi":55.0},
    {"series":"IDE alone","t":960,"v":51.85,"lo":50.4,"hi":53.2},
    {"series":"IDE alone","t":1120,"v":52.95,"lo":51.5,"hi":54.3},
    {"series":"IDE alone","t":1280,"v":51.85,"lo":50.6,"hi":53.0},
    {"series":"IDE alone","t":1600,"v":53.45,"lo":51.9,"hi":54.9},
    {"series":"IDE alone","t":1760,"v":52.2,"lo":50.8,"hi":53.4}
  ],
  "axisRg": [{"t":-15.2,"v":43.44,"v2":55.37}],
  "legRg": [
    {"series":"IDE + Insulin","t":358,"tl":491.5,"v":50.29},
    {"series":"IDE premixed with Insulin","t":358,"tl":491.5,"v":49.18},
    {"series":"IDE alone","t":358,"tl":491.5,"v":48.16}
  ],
  "rgDash": [
    {"series":"IDE alone","t":13,"v":52.35},{"series":"IDE alone","t":1890,"v":52.35},
    {"series":"IDE premixed with Insulin","t":13,"v":45.3},{"series":"IDE premixed with Insulin","t":1890,"v":45.3}
  ],
  "rgFit": [
    {"t":20,"v":53.2},{"t":40,"v":52.2},{"t":60,"v":51.2},{"t":80,"v":50.4},{"t":100,"v":49.7},{"t":120,"v":49.1},{"t":140,"v":48.6},{"t":160,"v":48.2},{"t":180,"v":47.9},{"t":200,"v":47.62},{"t":250,"v":47.1},{"t":300,"v":46.78},{"t":350,"v":46.6},{"t":400,"v":46.49},{"t":500,"v":46.4},{"t":600,"v":46.36},{"t":800,"v":46.34},{"t":1000,"v":46.33},{"t":1600,"v":46.32}
  ],
  "rgNote": [
    {"text":"B","part":"panel","series":"panel","t":-468.5,"v":54.81},
    {"text":"R","part":"sym","series":"IDE alone","t":95,"v":54.47},
    {"text":"g","part":"sub","series":"IDE alone","t":168,"v":54.23},
    {"text":"=52.4±2","part":"val","series":"IDE alone","t":226,"v":54.47},
    {"text":"R","part":"sym","series":"IDE premixed with Insulin","t":126,"v":43.81},
    {"text":"g","part":"sub","series":"IDE premixed with Insulin","t":200,"v":43.56},
    {"text":"=45.5±1","part":"val","series":"IDE premixed with Insulin","t":256,"v":43.81}
  ],
  "dm": [
    {"series":"IDE + Insulin","t":20,"v":195},{"series":"IDE + Insulin","t":35,"v":180},{"series":"IDE + Insulin","t":50,"v":180},{"series":"IDE + Insulin","t":65,"v":175},{"series":"IDE + Insulin","t":80,"v":170},{"series":"IDE + Insulin","t":100,"v":165},{"series":"IDE + Insulin","t":120,"v":165},{"series":"IDE + Insulin","t":140,"v":175},{"series":"IDE + Insulin","t":160,"v":160},{"series":"IDE + Insulin","t":180,"v":160},{"series":"IDE + Insulin","t":480,"v":150},{"series":"IDE + Insulin","t":640,"v":145},{"series":"IDE + Insulin","t":960,"v":149},{"series":"IDE + Insulin","t":1120,"v":149.5},{"series":"IDE + Insulin","t":1280,"v":149.5},{"series":"IDE + Insulin","t":1600,"v":149.5},
    {"series":"IDE premixed with Insulin","t":160,"v":150},{"series":"IDE premixed with Insulin","t":320,"v":150},{"series":"IDE premixed with Insulin","t":480,"v":150},{"series":"IDE premixed with Insulin","t":640,"v":150},{"series":"IDE premixed with Insulin","t":800,"v":144.7},{"series":"IDE premixed with Insulin","t":960,"v":144.7},{"series":"IDE premixed with Insulin","t":1120,"v":144.7},{"series":"IDE premixed with Insulin","t":1280,"v":144.6},{"series":"IDE premixed with Insulin","t":1440,"v":144.6},{"series":"IDE premixed with Insulin","t":1600,"v":144.5},{"series":"IDE premixed with Insulin","t":1760,"v":144.5},
    {"series":"IDE alone","t":160,"v":200},{"series":"IDE alone","t":480,"v":190},{"series":"IDE alone","t":640,"v":195},{"series":"IDE alone","t":960,"v":195},{"series":"IDE alone","t":1120,"v":195},{"series":"IDE alone","t":1280,"v":185},{"series":"IDE alone","t":1600,"v":195},{"series":"IDE alone","t":1760,"v":180}
  ],
  "legDm": [
    {"series":"IDE + Insulin","t":289.4,"tl":414.4,"v":175.38},
    {"series":"IDE premixed with Insulin","t":289.4,"tl":414.4,"v":169.59},
    {"series":"IDE alone","t":289.4,"tl":414.4,"v":164.23}
  ],
  "dmDash": [
    {"series":"IDE alone","t":0,"v":191.7},{"series":"IDE alone","t":1855,"v":191.1},
    {"series":"IDE premixed with Insulin","t":0,"v":146.4},{"series":"IDE premixed with Insulin","t":1855,"v":145.8}
  ],
  "dmFit": [
    {"t":25,"v":189.8},{"t":40,"v":184},{"t":55,"v":179.5},{"t":73,"v":174.7},{"t":90,"v":170.6},{"t":105,"v":167.5},{"t":124,"v":164.5},{"t":145,"v":161.8},{"t":170,"v":159},{"t":200,"v":156.5},{"t":231,"v":154.6},{"t":270,"v":153},{"t":308,"v":151.7},{"t":350,"v":151.0},{"t":385,"v":150.5},{"t":450,"v":149.8},{"t":539,"v":149.3},{"t":650,"v":149.0},{"t":830,"v":148.8},{"t":1100,"v":148.7},{"t":1600,"v":148.6}
  ],
  "dmNote": [
    {"text":"D","part":"sym","series":"IDE alone","t":29,"v":198.54},
    {"text":"max","part":"sub","series":"IDE alone","t":108,"v":196.9},
    {"text":"=192±20","part":"val","series":"IDE alone","t":231,"v":198.54},
    {"text":"D","part":"sym","series":"IDE premixed with Insulin","t":14.5,"v":141.46},
    {"text":"max","part":"sub","series":"IDE premixed with Insulin","t":98,"v":139.7},
    {"text":"=147±15","part":"val","series":"IDE premixed with Insulin","t":215,"v":141.46}
  ]
},
"concat": [
  {
    "spacing": 29,
    "hconcat": [
      {
        "width": 604, "height": 430,
        "encoding": {
          "x": {"field": "q", "type": "quantitative", "scale": {"type": "log", "domain": [0.004215, 0.395], "nice": false},
            "axis": {"values": [0.005,0.006,0.007,0.008,0.009,0.01,0.02,0.03,0.04,0.05,0.06,0.07,0.08,0.09,0.1,0.2,0.3],
              "domain": false,
              "labelExpr": "datum.value == 0.01 ? '0.01' : (datum.value == 0.1 ? '0.1' : '')",
              "tickSize": {"condition": {"test": "datum.value == 0.01 || datum.value == 0.1", "value": 10}, "value": 5},
              "labelFontSize": 43, "labelPadding": 10,
              "title": "q( Å⁻¹)", "titleFont": "Liberation Sans", "titleFontSize": 38, "titleX": 265, "titleY": 65, "titleAlign": "center", "titleBaseline": "alphabetic"}},
          "y": {"field": "I", "type": "quantitative", "scale": {"type": "log", "domain": [0.00206, 25.3], "nice": false},
            "axis": {"values": [0.003,0.004,0.005,0.006,0.007,0.008,0.009,0.01,0.02,0.03,0.04,0.05,0.06,0.07,0.08,0.09,0.1,0.2,0.3,0.4,0.5,0.6,0.7,0.8,0.9,1,2,3,4,5,6,7,8,9,10],
              "offset": -19,
              "labelExpr": "datum.value == 10 ? '10' : (datum.value == 1 ? '1' : (datum.value == 0.1 ? '0.1' : (datum.value == 0.01 ? '0.01' : '')))",
              "tickSize": {"condition": {"test": "datum.value == 0.01 || datum.value == 0.1 || datum.value == 1 || datum.value == 10", "value": 8}, "value": 4},
              "labelFontSize": 43, "labelPadding": 8,
              "title": "Intensity", "titleFont": "Liberation Sans", "titleFontSize": 36, "titleAngle": -90, "titleX": -104, "titleY": 224, "titleAlign": "center", "titleBaseline": "alphabetic"}}
        },
        "layer": [
          {"data": {"name": "axisL"}, "mark": {"type": "rule", "color": "#231f20", "strokeWidth": 1.5}, "encoding": {"x2": {"field": "q2"}}},
          {"data": {"name": "expL"}, "mark": {"type": "point", "shape": "square", "filled": false, "size": 34, "strokeWidth": 1.2, "color": "#231f20", "opacity": 1}},
          {"data": {"name": "redL"}, "mark": {"type": "line", "color": "#e8232b", "strokeWidth": 3.5, "interpolate": "monotone"}, "encoding": {}},
          {"data": {"name": "blueL"}, "mark": {"type": "line", "color": "#3b57a7", "strokeWidth": 3.5, "interpolate": "monotone"}, "encoding": {}},
          {"data": {"name": "keyL"}, "transform": [{"filter": "datum.model == 'O/pO'"}], "mark": {"type": "rule", "color": "#e8232b", "strokeWidth": 3.5}, "encoding": {"x2": {"field": "q2"}}},
          {"data": {"name": "keyL"}, "transform": [{"filter": "datum.model != 'O/pO'"}], "mark": {"type": "rule", "color": "#3b57a7", "strokeWidth": 3.5}, "encoding": {"x2": {"field": "q2"}}},
          {"data": {"name": "tabL"}, "transform": [{"filter": "datum.part == 'marker'"}], "mark": {"type": "point", "shape": "square", "filled": false, "size": 210, "strokeWidth": 3.5, "color": "#231f20", "opacity": 1}},
          {"data": {"name": "tabL"}, "transform": [{"filter": "datum.part == 'panel'"}], "mark": {"type": "text", "align": "left", "baseline": "alphabetic", "font": "Liberation Sans", "fontWeight": "bold", "fontSize": 47, "color": "#231f20"}, "encoding": {"text": {"field": "text"}}},
          {"data": {"name": "tabL"}, "transform": [{"filter": "datum.part == 'head'"}], "mark": {"type": "text", "align": "left", "baseline": "alphabetic", "font": "Liberation Sans", "fontSize": 31, "color": "#231f20"}, "encoding": {"text": {"field": "text"}}},
          {"data": {"name": "tabL"}, "transform": [{"filter": "datum.part == 'sub'"}], "mark": {"type": "text", "align": "left", "baseline": "alphabetic", "font": "Liberation Sans", "fontSize": 19, "color": "#231f20"}, "encoding": {"text": {"field": "text"}}},
          {"data": {"name": "tabL"}, "transform": [{"filter": "datum.part == 'name'"}], "mark": {"type": "text", "align": "left", "baseline": "alphabetic", "font": "Liberation Sans", "fontSize": 26, "color": "#231f20"}, "encoding": {"text": {"field": "text"}}},
          {"data": {"name": "tabL"}, "transform": [{"filter": "datum.part == 'value'"}], "mark": {"type": "text", "align": "left", "baseline": "alphabetic", "font": "Liberation Sans", "fontSize": 33, "color": "#231f20"}, "encoding": {"text": {"field": "text"}}}
        ]
      },
      {
        "width": 584, "height": 430,
        "encoding": {
          "x": {"field": "q", "type": "quantitative", "scale": {"type": "log", "domain": [0.0049, 0.395], "nice": false},
            "axis": {"values": [0.005,0.006,0.007,0.008,0.009,0.01,0.02,0.03,0.04,0.05,0.06,0.07,0.08,0.09,0.1,0.2,0.3],
              "labelExpr": "datum.value == 0.01 ? '0.01' : (datum.value == 0.1 ? '0.1' : '')",
              "tickSize": {"condition": {"test": "datum.value == 0.01 || datum.value == 0.1", "value": 10}, "value": 5},
              "labelFontSize": 43, "labelPadding": 10,
              "title": "q( Å⁻¹)", "titleFont": "Liberation Sans", "titleFontSize": 38, "titleX": 242, "titleY": 65, "titleAlign": "center", "titleBaseline": "alphabetic"}},
          "y": {"field": "I", "type": "quantitative", "scale": {"type": "log", "domain": [0.00206, 25.3], "nice": false},
            "axis": {"values": [0.003,0.004,0.005,0.006,0.007,0.008,0.009,0.01,0.02,0.03,0.04,0.05,0.06,0.07,0.08,0.09,0.1,0.2,0.3,0.4,0.5,0.6,0.7,0.8,0.9,1,2,3,4,5,6,7,8,9,10],
              "labels": false,
              "tickSize": {"condition": {"test": "datum.value == 0.01 || datum.value == 0.1 || datum.value == 1 || datum.value == 10", "value": 8}, "value": 4},
              "title": null}}
        },
        "layer": [
          {"data": {"name": "expR"}, "mark": {"type": "point", "shape": "square", "filled": false, "size": 34, "strokeWidth": 1.2, "color": "#231f20", "opacity": 1}},
          {"data": {"name": "blueR"}, "mark": {"type": "line", "color": "#3b57a7", "strokeWidth": 3.5, "interpolate": "monotone"}, "encoding": {}},
          {"data": {"name": "redR"}, "mark": {"type": "line", "color": "#e8232b", "strokeWidth": 3.5, "interpolate": "monotone"}, "encoding": {}},
          {"data": {"name": "keyR"}, "transform": [{"filter": "datum.model == 'O/pO'"}], "mark": {"type": "rule", "color": "#e8232b", "strokeWidth": 3.5}, "encoding": {"x2": {"field": "q2"}}},
          {"data": {"name": "keyR"}, "transform": [{"filter": "datum.model != 'O/pO'"}], "mark": {"type": "rule", "color": "#3b57a7", "strokeWidth": 3.5}, "encoding": {"x2": {"field": "q2"}}},
          {"data": {"name": "tabR"}, "transform": [{"filter": "datum.part == 'marker'"}], "mark": {"type": "point", "shape": "square", "filled": false, "size": 210, "strokeWidth": 3.5, "color": "#231f20", "opacity": 1}},
          {"data": {"name": "tabR"}, "transform": [{"filter": "datum.part == 'head'"}], "mark": {"type": "text", "align": "left", "baseline": "alphabetic", "font": "Liberation Sans", "fontSize": 31, "color": "#231f20"}, "encoding": {"text": {"field": "text"}}},
          {"data": {"name": "tabR"}, "transform": [{"filter": "datum.part == 'sub'"}], "mark": {"type": "text", "align": "left", "baseline": "alphabetic", "font": "Liberation Sans", "fontSize": 19, "color": "#231f20"}, "encoding": {"text": {"field": "text"}}},
          {"data": {"name": "tabR"}, "transform": [{"filter": "datum.part == 'name'"}], "mark": {"type": "text", "align": "left", "baseline": "alphabetic", "font": "Liberation Sans", "fontSize": 26, "color": "#231f20"}, "encoding": {"text": {"field": "text"}}},
          {"data": {"name": "tabR"}, "transform": [{"filter": "datum.part == 'value'"}], "mark": {"type": "text", "align": "left", "baseline": "alphabetic", "font": "Liberation Sans", "fontSize": 33, "color": "#231f20"}, "encoding": {"text": {"field": "text"}}},
          {"data": {"name": "tabR"}, "transform": [{"filter": "datum.part == 'label'"}], "mark": {"type": "text", "align": "left", "baseline": "alphabetic", "font": "Liberation Sans", "fontSize": 37, "color": "#231f20"}, "encoding": {"text": {"field": "text"}}}
        ]
      }
    ]
  },
  {
    "columns": 2,
    "spacing": 102,
    "resolve": {"scale": {"color": "independent", "shape": "independent", "size": "independent"}},
    "concat": [
      {
        "width": 479, "height": 416,
        "encoding": {
          "x": {"field": "t", "type": "quantitative", "scale": {"domain": [-15.2, 1809.5], "nice": false, "zero": false},
            "axis": {"values": [0,200,400,600,800,1000,1200,1400,1600,1800],
              "labelExpr": "datum.value % 400 == 0 ? '' + datum.value : ''",
              "tickSize": 5, "labelFontSize": 39, "labelPadding": 9,
              "title": "Time (ms)", "titleFont": "Liberation Serif", "titleFontSize": 43, "titleX": 218, "titleY": 110, "titleAlign": "center", "titleBaseline": "alphabetic"}},
          "y": {"field": "v", "type": "quantitative", "scale": {"domain": [43.44, 56.398], "nice": false, "zero": false},
            "axis": {"values": [44,45,46,47,48,49,50,51,52,53,54,55],
              "domain": false,
              "labelExpr": "datum.value % 2 == 0 ? '' + datum.value : ''",
              "tickSize": 5, "labelFontSize": 39, "labelPadding": 7,
              "title": "Rg(Å)", "titleFont": "Liberation Serif", "titleFontSize": 44, "titleAngle": -90, "titleX": -73, "titleY": 242, "titleAlign": "center", "titleBaseline": "alphabetic"}}
        },
        "layer": [
          {"data": {"name": "axisRg"}, "mark": {"type": "rule", "color": "#231f20", "strokeWidth": 1.5}, "encoding": {"y2": {"field": "v2"}}},
          {"data": {"name": "rgDash"}, "mark": {"type": "line", "strokeDash": [8, 5], "strokeWidth": 2},
            "encoding": {"color": {"field": "series", "type": "nominal", "scale": {"domain": ["IDE + Insulin", "IDE premixed with Insulin", "IDE alone", "panel"], "range": ["#231f20", "#e8232b", "#3b57a7", "#231f20"]}, "legend": null}}},
          {"data": {"name": "rgFit"}, "mark": {"type": "line", "color": "#231f20", "strokeWidth": 1.6, "interpolate": "monotone"}, "encoding": {}},
          {"data": {"name": "rg"}, "mark": {"type": "errorbar", "ticks": true, "thickness": 1.6},
            "encoding": {"y": {"field": "lo", "type": "quantitative"}, "y2": {"field": "hi"}, "color": {"field": "series", "type": "nominal", "legend": null}}},
          {"data": {"name": "rg"}, "mark": {"type": "point", "filled": true, "opacity": 1, "size": 110, "strokeWidth": 0},
            "encoding": {
              "color": {"field": "series", "type": "nominal", "legend": null},
              "shape": {"field": "series", "type": "nominal", "scale": {"domain": ["IDE + Insulin", "IDE premixed with Insulin", "IDE alone"], "range": ["square", "circle", "triangle-up"]}, "legend": null}}},
          {"data": {"name": "legRg"}, "mark": {"type": "point", "filled": true, "opacity": 1, "strokeWidth": 0},
            "encoding": {
              "color": {"field": "series", "type": "nominal", "legend": null},
              "shape": {"field": "series", "type": "nominal", "legend": null},
              "size": {"field": "series", "type": "nominal", "scale": {"domain": ["IDE + Insulin", "IDE premixed with Insulin", "IDE alone"], "range": [160, 256, 250]}, "legend": null}}},
          {"data": {"name": "legRg"}, "mark": {"type": "text", "align": "left", "baseline": "middle", "font": "Liberation Serif", "fontSize": 26.5, "color": "#231f20"},
            "encoding": {"x": {"field": "tl", "type": "quantitative"}, "text": {"field": "series"}}},
          {"data": {"name": "rgNote"}, "transform": [{"filter": "datum.part == 'panel'"}], "mark": {"type": "text", "align": "left", "baseline": "alphabetic", "font": "Liberation Sans", "fontWeight": "bold", "fontSize": 46},
            "encoding": {"text": {"field": "text"}, "color": {"field": "series", "type": "nominal", "legend": null}}},
          {"data": {"name": "rgNote"}, "transform": [{"filter": "datum.part == 'sym'"}], "mark": {"type": "text", "align": "left", "baseline": "alphabetic", "font": "Liberation Sans", "fontSize": 28},
            "encoding": {"text": {"field": "text"}, "color": {"field": "series", "type": "nominal", "legend": null}}},
          {"data": {"name": "rgNote"}, "transform": [{"filter": "datum.part == 'sub'"}], "mark": {"type": "text", "align": "left", "baseline": "alphabetic", "font": "Liberation Sans", "fontSize": 18},
            "encoding": {"text": {"field": "text"}, "color": {"field": "series", "type": "nominal", "legend": null}}},
          {"data": {"name": "rgNote"}, "transform": [{"filter": "datum.part == 'val'"}], "mark": {"type": "text", "align": "left", "baseline": "alphabetic", "font": "Liberation Sans", "fontSize": 26, "fontWeight": "bold"},
            "encoding": {"text": {"field": "text"}, "color": {"field": "series", "type": "nominal", "legend": null}}}
        ]
      },
      {
        "width": 497, "height": 401,
        "encoding": {
          "x": {"field": "t", "type": "quantitative", "scale": {"domain": [-3.6, 1803.6], "nice": false, "zero": false},
            "axis": {"values": [0,200,400,600,800,1000,1200,1400,1600,1800],
              "labelExpr": "datum.value % 400 == 0 ? '' + datum.value : ''",
              "tickSize": 5, "labelFontSize": 40, "labelPadding": 6,
              "title": "Time (ms)", "titleFont": "Liberation Serif", "titleFontSize": 43, "titleX": 218, "titleY": 107, "titleAlign": "center", "titleBaseline": "alphabetic"}},
          "y": {"field": "v", "type": "quantitative", "scale": {"domain": [139.67, 204.88], "nice": false, "zero": false},
            "axis": {"values": [140,145,150,155,160,165,170,175,180,185,190,195,200],
              "labelExpr": "datum.value % 10 == 0 ? '' + datum.value : ''",
              "tickSize": 5, "labelFontSize": 40, "labelPadding": 9,
              "title": "Dmax(Å)", "titleFont": "Liberation Serif", "titleFontSize": 44, "titleAngle": -90, "titleX": -102, "titleY": 234, "titleAlign": "center", "titleBaseline": "alphabetic"}}
        },
        "layer": [
          {"data": {"name": "dmDash"}, "mark": {"type": "line", "strokeDash": [6, 4], "strokeWidth": 2},
            "encoding": {"color": {"field": "series", "type": "nominal", "scale": {"domain": ["IDE + Insulin", "IDE premixed with Insulin", "IDE alone"], "range": ["#231f20", "#e8232b", "#3b57a7"]}, "legend": null}}},
          {"data": {"name": "dmFit"}, "mark": {"type": "line", "color": "#231f20", "strokeWidth": 1.6, "interpolate": "monotone"}, "encoding": {}},
          {"data": {"name": "dm"}, "mark": {"type": "point", "filled": true, "opacity": 1, "size": 110, "strokeWidth": 0},
            "encoding": {
              "color": {"field": "series", "type": "nominal", "legend": null},
              "shape": {"field": "series", "type": "nominal", "scale": {"domain": ["IDE + Insulin", "IDE premixed with Insulin", "IDE alone"], "range": ["square", "circle", "triangle-up"]}, "legend": null}}},
          {"data": {"name": "legDm"}, "mark": {"type": "point", "filled": true, "opacity": 1, "strokeWidth": 0},
            "encoding": {
              "color": {"field": "series", "type": "nominal", "legend": null},
              "shape": {"field": "series", "type": "nominal", "legend": null},
              "size": {"field": "series", "type": "nominal", "scale": {"domain": ["IDE + Insulin", "IDE premixed with Insulin", "IDE alone"], "range": [160, 256, 250]}, "legend": null}}},
          {"data": {"name": "legDm"}, "mark": {"type": "text", "align": "left", "baseline": "middle", "font": "Liberation Serif", "fontSize": 26.5, "color": "#231f20"},
            "encoding": {"x": {"field": "tl", "type": "quantitative"}, "text": {"field": "series"}}},
          {"data": {"name": "dmNote"}, "transform": [{"filter": "datum.part == 'sym'"}], "mark": {"type": "text", "align": "left", "baseline": "alphabetic", "font": "Liberation Sans", "fontSize": 29},
            "encoding": {"text": {"field": "text"}, "color": {"field": "series", "type": "nominal", "legend": null}}},
          {"data": {"name": "dmNote"}, "transform": [{"filter": "datum.part == 'sub'"}], "mark": {"type": "text", "align": "left", "baseline": "alphabetic", "font": "Liberation Sans", "fontSize": 19},
            "encoding": {"text": {"field": "text"}, "color": {"field": "series", "type": "nominal", "legend": null}}},
          {"data": {"name": "dmNote"}, "transform": [{"filter": "datum.part == 'val'"}], "mark": {"type": "text", "align": "left", "baseline": "alphabetic", "font": "Liberation Sans", "fontSize": 27, "fontWeight": "bold"},
            "encoding": {"text": {"field": "text"}, "color": {"field": "series", "type": "nominal", "legend": null}}}
        ]
      }
    ]
  }
]
}
